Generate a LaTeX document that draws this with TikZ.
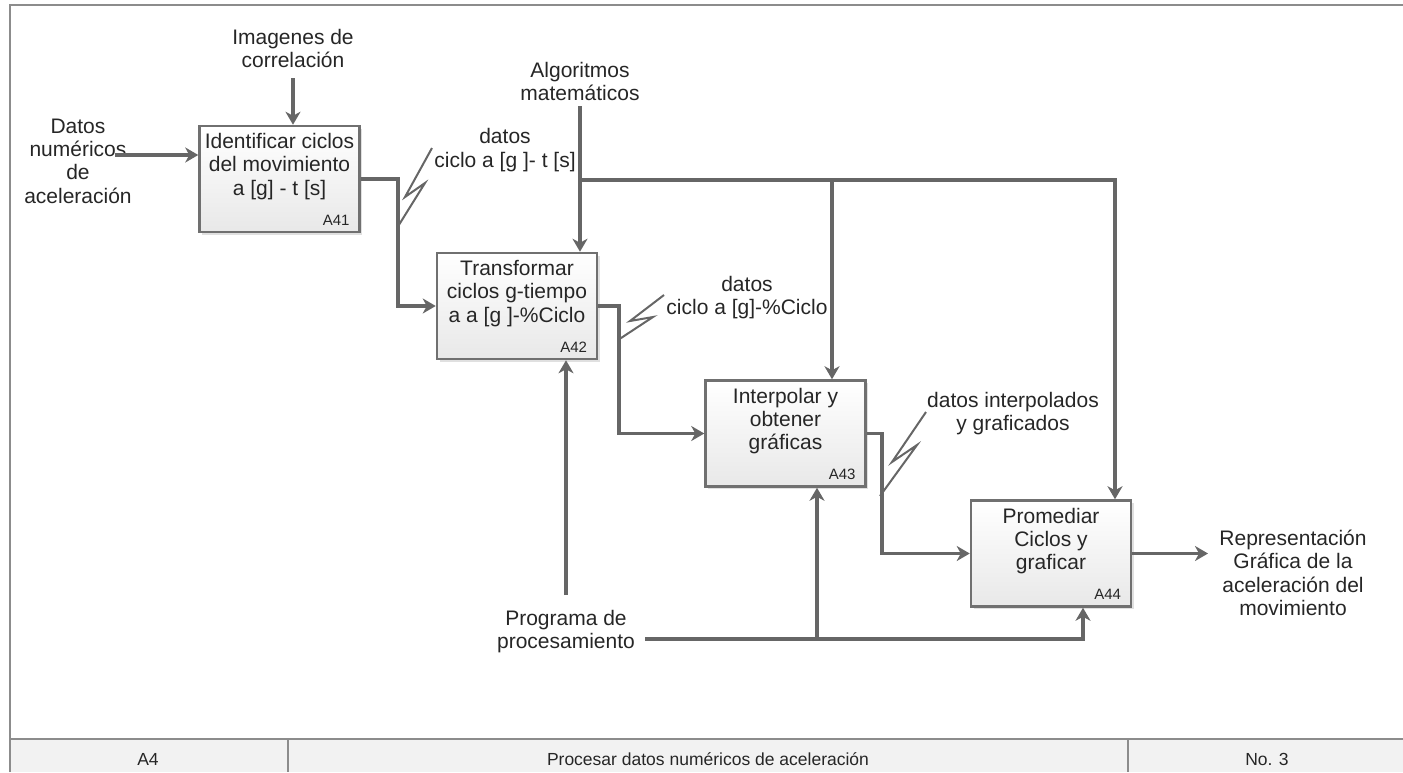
\documentclass[tikz,border=0pt]{standalone}
\usepackage{fontspec}
\setmainfont{Liberation Sans}
\usetikzlibrary{arrows.meta,shadows}
\definecolor{txt}{HTML}{262626}
\definecolor{ln}{HTML}{666666}
\definecolor{bx}{HTML}{707070}
\definecolor{fr}{HTML}{8C8C8C}
\definecolor{barfill}{HTML}{F2F2F2}
\begin{document}
\begin{tikzpicture}[x=1pt,y=-1pt,
  box/.style={draw=bx, line width=2.5pt, top color=white, bottom color=black!9,
    minimum width=160pt, minimum height=106pt, inner sep=0pt,
    drop shadow={shadow xshift=2.5pt, shadow yshift=-2.5pt, opacity=0.12, fill=black}},
  boxtxt/.style={anchor=north, align=center, font=\fontsize{21}{23.3}\selectfont,
    text=txt, inner sep=3pt, yshift=-5.5pt},
  idlbl/.style={anchor=south east, font=\fontsize{15}{17}\selectfont, text=txt,
    inner sep=0pt, xshift=-11pt, yshift=8pt},
  lbl/.style={align=center, font=\fontsize{21}{23.3}\selectfont, text=txt, inner sep=0pt},
  bartxt/.style={font=\fontsize{17.5}{20}\selectfont, text=txt, inner sep=0pt},
  flow/.style={draw=ln, line width=3.8pt, -{Stealth[length=13pt, width=15pt, inset=4pt]}},
  squig/.style={draw=ln, line width=2pt, line join=miter}
]
\useasboundingbox (0,0) rectangle (1403,772);
% frame and bottom bar
\fill[barfill] (10,739) rectangle (1403,772);
\draw[fr, line width=1.5pt] (10,772) -- (10,5) -- (1403,5);
\draw[fr, line width=1.5pt] (10,739) -- (1403,739);
\draw[fr, line width=1.2pt] (288,739) -- (288,772);
\draw[fr, line width=1.2pt] (1128,739) -- (1128,772);
\node[bartxt] (barA) at (148,759) {A4};
\node[bartxt] (barT) at (708,759) {Procesar datos numéricos de aceleración};
\node[bartxt] (barN) at (1267,759) {No. 3};

% boxes
\node[box, label={[boxtxt]north:{Identificar ciclos\\del movimiento\\a [g] - t [s]}},
  label={[idlbl]south east:A41}] (A41) at (279.5,179) {};
\node[box, label={[boxtxt]north:{Transformar\\ciclos g-tiempo\\a a [g ]-\%Ciclo}},
  label={[idlbl]south east:A42}] (A42) at (517,306) {};
\node[box, label={[boxtxt]north:{Interpolar y\\obtener\\gráficas}},
  label={[idlbl]south east:A43}] (A43) at (785.5,433.5) {};
\node[box, label={[boxtxt]north:{Promediar\\Ciclos y\\graficar}},
  label={[idlbl]south east:A44}] (A44) at (1051,553.5) {};

% text nodes
\node[lbl] (imag) at (293,48.5) {Imagenes de\\correlación};
\node[lbl] (datos) at (78,161) {Datos\\numéricos\\de\\aceleración};
\node[lbl] (algo) at (580,81.5) {Algoritmos\\matemáticos};
\node[lbl] (lab1) at (505,150) {datos\\ciclo a [g ]- t [s]};
\node[lbl] (lab2) at (747,297.5) {datos\\ciclo a [g]-\%Ciclo};
\node[lbl] (lab3) at (1013,413.5) {datos interpolados\\y graficados};
\node[lbl] (repr) at (1293,573) {Representación\\Gráfica de la\\aceleración del\\movimiento};
\node[lbl] (prog) at (566,631.5) {Programa de\\procesamiento};

% free ends
\coordinate (datosout) at (115,155);
\coordinate (imagout) at (293,78);
\coordinate (algout) at (580,106);
\coordinate (j1) at (580,180);
\coordinate (c43in) at (832,0);
\coordinate (c44in) at (1115,0);
\coordinate (reprin) at (1208,553.5);
\coordinate (progup) at (566,595);
\coordinate (progout) at (645,639);
\coordinate (c43b) at (817,0);
\coordinate (c44b) at (1083,0);

% inputs
\draw[flow] (datosout) -- (A41.west |- datosout);
\draw[flow] (imagout) -- (imagout |- A41.north);
% controls
\draw[flow] (algout) -- (algout |- A42.north);
\draw[flow] (j1) -| (c43in |- A43.north);
\draw[flow] (j1) -| (c44in |- A44.north);
% flow between boxes
\draw[flow] (A41.east) -- ++(37,0) |- (A42.west);
\draw[flow] (A42.east) -- ++(21,0) |- (A43.west);
\draw[flow] (A43.east) -- ++(15,0) |- (A44.west);
\draw[flow] (A44.east) -- (reprin);
% mechanisms
\draw[flow] (progup) -- (progup |- A42.south);
\draw[flow] (progout) -| (c44b |- A44.south);
\draw[flow] (c43b |- progout) -- (c43b |- A43.south);

% squiggles
\draw[squig] (397,228) -- (425,183) -- (405,197) -- (432,148);
\draw[squig] (618,340) -- (653,317) -- (630,321) -- (664,295);
\draw[squig] (880,496) -- (917,445) -- (892,462) -- (926,412);
\end{tikzpicture}
\end{document}
